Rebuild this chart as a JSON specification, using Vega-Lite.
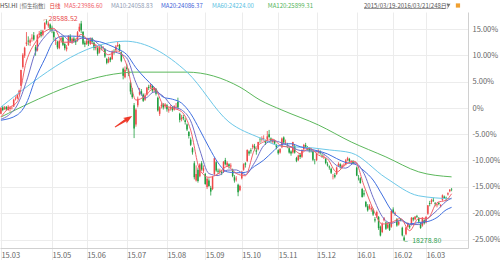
{
"$schema":"https://vega.github.io/schema/vega-lite/v6.json",
"width":468,"height":236,
"autosize":{"type":"none"},
"padding":{"left":0,"top":12,"right":32,"bottom":12},
"background":"white",
"config":{"view":{"stroke":null},"font":"Noto Sans CJK SC","text":{"font":"Noto Sans CJK SC"}},
"resolve":{"axis":{"x":"independent","y":"independent"}},
"datasets":{
"k":[
{"i":0,"o":24200,"h":24520,"l":24180,"c":24468},{"i":1,"o":24500,"h":24560,"l":24320,"c":24375},{"i":2,"o":24420,"h":24560,"l":24380,"c":24494},{"i":3,"o":24520,"h":24560,"l":24350,"c":24400},{"i":4,"o":24380,"h":24600,"l":24340,"c":24528},
{"i":5,"o":24420,"h":24540,"l":24300,"c":24497},{"i":6,"o":24460,"h":24560,"l":24400,"c":24486},{"i":7,"o":24540,"h":24900,"l":24520,"c":24855},{"i":8,"o":24880,"h":25010,"l":24820,"c":24901},{"i":9,"o":24920,"h":25120,"l":24880,"c":25082},
{"i":10,"o":25100,"h":25320,"l":25060,"c":25275},{"i":11,"o":25500,"h":26250,"l":25480,"c":26236},{"i":12,"o":26380,"h":27020,"l":26300,"c":26944},{"i":13,"o":26900,"h":27320,"l":26800,"c":27272},{"i":14,"o":27450,"h":28000,"l":27350,"c":27516},
{"i":15,"o":27600,"h":27800,"l":27380,"c":27561},{"i":16,"o":27500,"h":27700,"l":27350,"c":27618},{"i":17,"o":27700,"h":27900,"l":27550,"c":27739},{"i":18,"o":27850,"h":28000,"l":27600,"c":27653},{"i":19,"o":27300,"h":27400,"l":26900,"c":27094},
{"i":20,"o":27150,"h":27900,"l":27100,"c":27850},{"i":21,"o":27880,"h":28050,"l":27750,"c":27933},{"i":22,"o":28000,"h":28100,"l":27750,"c":27827},{"i":23,"o":27880,"h":28100,"l":27800,"c":28061},{"i":24,"o":28150,"h":28450,"l":28100,"c":28433},
{"i":25,"o":28500,"h":28588.52,"l":28350,"c":28442},{"i":26,"o":28300,"h":28500,"l":28200,"c":28400},{"i":27,"o":28350,"h":28400,"l":28050,"c":28133},{"i":28,"o":28200,"h":28300,"l":27950,"c":28123},{"i":29,"o":28000,"h":28050,"l":27600,"c":27755},
{"i":30,"o":27600,"h":27750,"l":27400,"c":27640},{"i":31,"o":27550,"h":27600,"l":27200,"c":27289},{"i":32,"o":27250,"h":27650,"l":27200,"c":27577},{"i":33,"o":27650,"h":27800,"l":27500,"c":27718},{"i":34,"o":27750,"h":27800,"l":27350,"c":27407},
{"i":35,"o":27450,"h":27500,"l":27150,"c":27250},{"i":36,"o":27200,"h":27400,"l":27100,"c":27286},{"i":37,"o":27400,"h":27850,"l":27350,"c":27822},{"i":38,"o":27800,"h":27900,"l":27500,"c":27591},{"i":39,"o":27550,"h":27750,"l":27450,"c":27694},
{"i":40,"o":27700,"h":27780,"l":27500,"c":27585},{"i":41,"o":27600,"h":27700,"l":27400,"c":27524},{"i":42,"o":27600,"h":28050,"l":27550,"c":27993},{"i":43,"o":28050,"h":28400,"l":28000,"c":28249},{"i":44,"o":28400,"h":28520,"l":27950,"c":28082},
{"i":45,"o":28000,"h":28050,"l":27400,"c":27454},{"i":46,"o":27500,"h":27600,"l":27300,"c":27424},{"i":47,"o":27450,"h":27700,"l":27400,"c":27597},{"i":48,"o":27600,"h":27650,"l":27350,"c":27466},{"i":49,"o":27450,"h":27750,"l":27400,"c":27657},
{"i":50,"o":27700,"h":27750,"l":27450,"c":27551},{"i":51,"o":27500,"h":27550,"l":27150,"c":27260},{"i":52,"o":27250,"h":27450,"l":27150,"c":27316},{"i":53,"o":27250,"h":27300,"l":26900,"c":26989},{"i":54,"o":27050,"h":27350,"l":27000,"c":27280},
{"i":55,"o":27300,"h":27400,"l":27150,"c":27281},{"i":56,"o":27250,"h":27350,"l":27150,"c":27280},{"i":57,"o":27200,"h":27250,"l":26800,"c":26861},{"i":58,"o":26750,"h":26800,"l":26500,"c":26567},{"i":59,"o":26600,"h":26850,"l":26550,"c":26753},
{"i":60,"o":26800,"h":26850,"l":26600,"c":26694},{"i":61,"o":26750,"h":27150,"l":26700,"c":27080},{"i":62,"o":27100,"h":27200,"l":26950,"c":27080},{"i":63,"o":27150,"h":27400,"l":27100,"c":27333},{"i":64,"o":27350,"h":27550,"l":27300,"c":27404},
{"i":65,"o":27400,"h":27450,"l":27100,"c":27145},{"i":66,"o":27050,"h":27100,"l":26600,"c":26663},{"i":67,"o":26300,"h":26350,"l":25800,"c":25967},{"i":68,"o":25900,"h":26400,"l":25850,"c":26250},{"i":69,"o":26350,"h":26500,"l":26200,"c":26282},
{"i":70,"o":26200,"h":26300,"l":25950,"c":26064},{"i":71,"o":25650,"h":25700,"l":25100,"c":25236},{"i":72,"o":25300,"h":25400,"l":24900,"c":24976},{"i":73,"o":24600,"h":24700,"l":23070,"c":23516},{"i":74,"o":23700,"h":24450,"l":23600,"c":24392},
{"i":75,"o":24600,"h":25000,"l":24500,"c":24901},{"i":76,"o":25100,"h":25400,"l":25050,"c":25224},{"i":77,"o":25250,"h":25350,"l":25050,"c":25120},{"i":78,"o":25100,"h":25150,"l":24750,"c":24806},{"i":79,"o":24850,"h":25150,"l":24800,"c":25056},
{"i":80,"o":25100,"h":25450,"l":25050,"c":25416},{"i":81,"o":25450,"h":25550,"l":25300,"c":25404},{"i":82,"o":25450,"h":25600,"l":25350,"c":25536},{"i":83,"o":25500,"h":25550,"l":25200,"c":25282},{"i":84,"o":25300,"h":25450,"l":25200,"c":25398},
{"i":85,"o":25350,"h":25400,"l":25050,"c":25128},{"i":86,"o":24950,"h":25000,"l":24300,"c":24351},{"i":87,"o":24200,"h":24550,"l":24100,"c":24503},{"i":88,"o":24550,"h":24700,"l":24450,"c":24619},{"i":89,"o":24650,"h":24700,"l":24400,"c":24497},
{"i":90,"o":24550,"h":24700,"l":24450,"c":24636},{"i":91,"o":24600,"h":24650,"l":24300,"c":24411},{"i":92,"o":24350,"h":24500,"l":24250,"c":24406},{"i":93,"o":24450,"h":24600,"l":24350,"c":24514},{"i":94,"o":24500,"h":24550,"l":24300,"c":24375},
{"i":95,"o":24400,"h":24600,"l":24350,"c":24552},{"i":96,"o":24500,"h":24700,"l":24450,"c":24522},{"i":97,"o":24750,"h":24950,"l":24450,"c":24498},{"i":98,"o":24200,"h":24250,"l":23800,"c":23916},{"i":99,"o":23950,"h":24150,"l":23850,"c":24019},
{"i":100,"o":24050,"h":24150,"l":23900,"c":23991},{"i":101,"o":23900,"h":24000,"l":23700,"c":23815},{"i":102,"o":23700,"h":23750,"l":23400,"c":23474},{"i":103,"o":23350,"h":23400,"l":23050,"c":23167},{"i":104,"o":23000,"h":23100,"l":22700,"c":22757},
{"i":105,"o":22600,"h":22650,"l":22300,"c":22410},{"i":106,"o":21900,"h":22000,"l":21150,"c":21251},{"i":107,"o":21100,"h":21800,"l":21050,"c":21405},{"i":108,"o":21600,"h":21700,"l":21000,"c":21080},{"i":109,"o":21300,"h":21900,"l":21250,"c":21838},
{"i":110,"o":21900,"h":22000,"l":21550,"c":21612},{"i":111,"o":21550,"h":21800,"l":21450,"c":21670},{"i":112,"o":21400,"h":21450,"l":20900,"c":20934},{"i":113,"o":20800,"h":21250,"l":20700,"c":21185},{"i":114,"o":21100,"h":21200,"l":20800,"c":20840},
{"i":115,"o":20750,"h":20850,"l":20400,"c":20584},{"i":116,"o":20700,"h":21300,"l":20650,"c":21259},{"i":117,"o":21400,"h":22150,"l":21350,"c":22131},{"i":118,"o":21950,"h":22000,"l":21500,"c":21562},{"i":119,"o":21550,"h":21650,"l":21400,"c":21504},
{"i":120,"o":21500,"h":21650,"l":21400,"c":21562},{"i":121,"o":21500,"h":21600,"l":21350,"c":21455},{"i":122,"o":21500,"h":22000,"l":21450,"c":21967},{"i":123,"o":22050,"h":22150,"l":21800,"c":21855},{"i":124,"o":21800,"h":22000,"l":21750,"c":21920},
{"i":125,"o":21850,"h":21900,"l":21650,"c":21757},{"i":126,"o":21750,"h":21900,"l":21650,"c":21797},{"i":127,"o":21600,"h":21650,"l":21250,"c":21302},{"i":128,"o":21250,"h":21350,"l":21000,"c":21095},{"i":129,"o":21150,"h":21300,"l":21050,"c":21186},
{"i":130,"o":20900,"h":20950,"l":20368,"c":20556},{"i":131,"o":20650,"h":20900,"l":20600,"c":20846},{"i":132,"o":21200,"h":21550,"l":21150,"c":21506},{"i":133,"o":21600,"h":21900,"l":21550,"c":21854},{"i":134,"o":21900,"h":21950,"l":21700,"c":21832},
{"i":135,"o":22000,"h":22550,"l":21950,"c":22515},{"i":136,"o":22450,"h":22500,"l":22250,"c":22354},{"i":137,"o":22500,"h":22600,"l":22350,"c":22458},{"i":138,"o":22650,"h":22800,"l":22550,"c":22731},{"i":139,"o":22700,"h":22800,"l":22500,"c":22600},
{"i":140,"o":22500,"h":22600,"l":22300,"c":22439},{"i":141,"o":22550,"h":22900,"l":22500,"c":22888},{"i":142,"o":23000,"h":23100,"l":22850,"c":22989},{"i":143,"o":23000,"h":23150,"l":22900,"c":23075},{"i":144,"o":23050,"h":23200,"l":22950,"c":23076},
{"i":145,"o":22950,"h":23000,"l":22750,"c":22845},{"i":146,"o":23000,"h":23400,"l":22950,"c":23151},{"i":147,"o":23250,"h":23450,"l":23050,"c":23116},{"i":148,"o":23050,"h":23100,"l":22850,"c":22956},{"i":149,"o":22900,"h":23050,"l":22800,"c":22958},
{"i":150,"o":22950,"h":23000,"l":22750,"c":22820},{"i":151,"o":22750,"h":22800,"l":22550,"c":22640},{"i":152,"o":22500,"h":22550,"l":22300,"c":22370},{"i":153,"o":22400,"h":22600,"l":22350,"c":22568},{"i":154,"o":22650,"h":23100,"l":22600,"c":23053},
{"i":155,"o":23100,"h":23150,"l":22800,"c":22867},{"i":156,"o":22850,"h":23000,"l":22750,"c":22867},{"i":157,"o":22750,"h":22850,"l":22600,"c":22726},{"i":158,"o":22600,"h":22650,"l":22350,"c":22401},{"i":159,"o":22450,"h":22500,"l":22250,"c":22352},
{"i":160,"o":22400,"h":22900,"l":22350,"c":22888},{"i":161,"o":22700,"h":22750,"l":22350,"c":22396},{"i":162,"o":22150,"h":22200,"l":21950,"c":22011},{"i":163,"o":22050,"h":22300,"l":22000,"c":22264},{"i":164,"o":22300,"h":22350,"l":22100,"c":22188},
{"i":165,"o":22200,"h":22550,"l":22150,"c":22500},{"i":166,"o":22550,"h":22800,"l":22500,"c":22754},{"i":167,"o":22750,"h":22850,"l":22600,"c":22665},{"i":168,"o":22650,"h":22700,"l":22500,"c":22587},{"i":169,"o":22600,"h":22650,"l":22400,"c":22498},
{"i":170,"o":22500,"h":22600,"l":22400,"c":22488},{"i":171,"o":22450,"h":22500,"l":22000,"c":22068},{"i":172,"o":22000,"h":22100,"l":21850,"c":21996},{"i":173,"o":22050,"h":22400,"l":22000,"c":22381},{"i":174,"o":22400,"h":22550,"l":22350,"c":22479},
{"i":175,"o":22450,"h":22500,"l":22300,"c":22369},{"i":176,"o":22250,"h":22350,"l":22150,"c":22235},{"i":177,"o":22200,"h":22300,"l":22100,"c":22203},{"i":178,"o":22100,"h":22150,"l":21850,"c":21905},{"i":179,"o":21850,"h":21950,"l":21750,"c":21803},
{"i":180,"o":21750,"h":21800,"l":21600,"c":21704},{"i":181,"o":21650,"h":21700,"l":21400,"c":21464},{"i":182,"o":21300,"h":21400,"l":21150,"c":21309},{"i":183,"o":21350,"h":21450,"l":21200,"c":21274},{"i":184,"o":21400,"h":21750,"l":21350,"c":21701},
{"i":185,"o":21800,"h":21950,"l":21750,"c":21872},{"i":186,"o":21850,"h":21900,"l":21650,"c":21756},{"i":187,"o":21700,"h":21850,"l":21650,"c":21791},{"i":188,"o":21800,"h":21900,"l":21750,"c":21830},{"i":189,"o":21850,"h":22100,"l":21800,"c":22041},
{"i":190,"o":22050,"h":22200,"l":22000,"c":22138},{"i":191,"o":22100,"h":22150,"l":21950,"c":21999},{"i":192,"o":21950,"h":22050,"l":21900,"c":22000},{"i":193,"o":22000,"h":22050,"l":21850,"c":21882},{"i":194,"o":21900,"h":21950,"l":21850,"c":21914},
{"i":195,"o":21700,"h":21750,"l":21300,"c":21327},{"i":196,"o":21200,"h":21350,"l":21100,"c":21188},{"i":197,"o":21200,"h":21250,"l":20950,"c":20981},{"i":198,"o":20700,"h":20750,"l":20300,"c":20333},{"i":199,"o":20500,"h":20650,"l":20350,"c":20453},
{"i":200,"o":20100,"h":20150,"l":19850,"c":19888},{"i":201,"o":19900,"h":20000,"l":19650,"c":19712},{"i":202,"o":19800,"h":20000,"l":19750,"c":19934},{"i":203,"o":19750,"h":19900,"l":19650,"c":19817},{"i":204,"o":19750,"h":19800,"l":19450,"c":19520},
{"i":205,"o":19300,"h":19400,"l":19150,"c":19237},{"i":206,"o":19400,"h":19700,"l":19350,"c":19636},{"i":207,"o":19400,"h":19450,"l":18800,"c":18886},{"i":208,"o":18950,"h":19000,"l":18500,"c":18542},{"i":209,"o":18700,"h":19150,"l":18650,"c":19080},
{"i":210,"o":19250,"h":19400,"l":19200,"c":19340},{"i":211,"o":19150,"h":19200,"l":18800,"c":18860},{"i":212,"o":18900,"h":19150,"l":18850,"c":19052},{"i":213,"o":19100,"h":19150,"l":18750,"c":18793},{"i":214,"o":18950,"h":19750,"l":18900,"c":19683},
{"i":215,"o":19750,"h":19850,"l":19550,"c":19596},{"i":216,"o":19550,"h":19650,"l":19450,"c":19595},{"i":217,"o":19300,"h":19350,"l":18950,"c":19003},{"i":218,"o":19050,"h":19250,"l":19000,"c":19183},{"i":219,"o":19300,"h":19350,"l":19200,"c":19289},
{"i":220,"o":18900,"h":18950,"l":18500,"c":18546},{"i":221,"o":18450,"h":18550,"l":18278.8,"c":18320},{"i":222,"o":18600,"h":18950,"l":18550,"c":18918},{"i":223,"o":18950,"h":19150,"l":18900,"c":19122},{"i":224,"o":19000,"h":19050,"l":18850,"c":18925},
{"i":225,"o":19050,"h":19400,"l":19000,"c":19363},{"i":226,"o":19350,"h":19400,"l":19200,"c":19286},{"i":227,"o":19300,"h":19450,"l":19250,"c":19415},{"i":228,"o":19450,"h":19500,"l":19350,"c":19414},{"i":229,"o":19350,"h":19400,"l":19100,"c":19192},
{"i":230,"o":19100,"h":19150,"l":18850,"c":18889},{"i":231,"o":19000,"h":19400,"l":18950,"c":19364},{"i":232,"o":19250,"h":19300,"l":19050,"c":19112},{"i":233,"o":19150,"h":19450,"l":19100,"c":19407},{"i":234,"o":19550,"h":19950,"l":19500,"c":19942},
{"i":235,"o":20050,"h":20150,"l":19900,"c":20004},{"i":236,"o":20100,"h":20250,"l":20000,"c":20176},{"i":237,"o":20200,"h":20300,"l":20100,"c":20161},{"i":238,"o":20050,"h":20100,"l":19900,"c":20012},{"i":239,"o":19950,"h":20050,"l":19850,"c":19996},
{"i":240,"o":20050,"h":20100,"l":19950,"c":20003},{"i":241,"o":19900,"h":20000,"l":19850,"c":19965},{"i":242,"o":20200,"h":20450,"l":20150,"c":20407},{"i":243,"o":20350,"h":20400,"l":20250,"c":20288},{"i":244,"o":20300,"h":20350,"l":20150,"c":20257},
{"i":245,"o":20450,"h":20550,"l":20400,"c":20504},{"i":246,"o":20600,"h":20700,"l":20550,"c":20672},{"i":247,"o":20700,"h":20750,"l":20600,"c":20684}
],
"ma":[
{"s":"MA120","i":0,"v":24050},{"s":"MA120","i":66,"v":26092},{"s":"MA120","i":72,"v":26137},{"s":"MA120","i":102,"v":26137},{"s":"MA120","i":131,"v":25442},{"s":"MA120","i":142,"v":24839},{"s":"MA120","i":154,"v":24375},{"s":"MA120","i":174,"v":23680},{"s":"MA120","i":192,"v":22890},{"s":"MA120","i":211,"v":22195},{"s":"MA120","i":229,"v":21500},{"s":"MA120","i":247,"v":21268},
{"s":"MA60","i":0,"v":24514},{"s":"MA60","i":68,"v":27576},{"s":"MA60","i":102,"v":26137},{"s":"MA60","i":125,"v":23819},{"s":"MA60","i":142,"v":23076},{"s":"MA60","i":153,"v":22706},{"s":"MA60","i":171,"v":22613},{"s":"MA60","i":180,"v":22520},{"s":"MA60","i":192,"v":22381},{"s":"MA60","i":211,"v":21220},{"s":"MA60","i":229,"v":20386},{"s":"MA60","i":247,"v":20247},
{"s":"MA20","i":0,"v":23900},{"s":"MA20","i":9,"v":24150},{"s":"MA20","i":14,"v":24700},{"s":"MA20","i":19,"v":25850},{"s":"MA20","i":24,"v":26742},{"s":"MA20","i":29,"v":27594},{"s":"MA20","i":34,"v":27813},{"s":"MA20","i":39,"v":27812},{"s":"MA20","i":44,"v":27778},{"s":"MA20","i":49,"v":27616},{"s":"MA20","i":54,"v":27554},{"s":"MA20","i":59,"v":27409},{"s":"MA20","i":64,"v":27216},{"s":"MA20","i":69,"v":26952},{"s":"MA20","i":74,"v":26341},{"s":"MA20","i":79,"v":25859},{"s":"MA20","i":84,"v":25432},{"s":"MA20","i":89,"v":24971},{"s":"MA20","i":94,"v":24879},{"s":"MA20","i":99,"v":24699},{"s":"MA20","i":104,"v":24208},{"s":"MA20","i":109,"v":23452},{"s":"MA20","i":114,"v":22647},{"s":"MA20","i":119,"v":21924},{"s":"MA20","i":124,"v":21501},{"s":"MA20","i":129,"v":21459},{"s":"MA20","i":134,"v":21477},{"s":"MA20","i":139,"v":21758},{"s":"MA20","i":144,"v":22043},{"s":"MA20","i":149,"v":22437},{"s":"MA20","i":154,"v":22780},{"s":"MA20","i":159,"v":22808},{"s":"MA20","i":164,"v":22672},{"s":"MA20","i":169,"v":22571},{"s":"MA20","i":174,"v":22469},{"s":"MA20","i":179,"v":22334},{"s":"MA20","i":184,"v":22119},{"s":"MA20","i":189,"v":21933},{"s":"MA20","i":194,"v":21860},{"s":"MA20","i":199,"v":21548},{"s":"MA20","i":204,"v":21119},{"s":"MA20","i":209,"v":20423},{"s":"MA20","i":214,"v":19713},{"s":"MA20","i":219,"v":19332},{"s":"MA20","i":224,"v":19080},{"s":"MA20","i":229,"v":19145},{"s":"MA20","i":234,"v":19194},{"s":"MA20","i":239,"v":19378},{"s":"MA20","i":244,"v":19733},{"s":"MA20","i":247,"v":19850},
{"s":"MA10","i":0,"v":23950},{"s":"MA10","i":4,"v":24120},{"s":"MA10","i":9,"v":24609},{"s":"MA10","i":14,"v":25707},{"s":"MA10","i":19,"v":27091},{"s":"MA10","i":24,"v":27777},{"s":"MA10","i":29,"v":28096},{"s":"MA10","i":34,"v":27849},{"s":"MA10","i":39,"v":27528},{"s":"MA10","i":44,"v":27708},{"s":"MA10","i":49,"v":27704},{"s":"MA10","i":54,"v":27400},{"s":"MA10","i":59,"v":27114},{"s":"MA10","i":64,"v":27033},{"s":"MA10","i":69,"v":26790},{"s":"MA10","i":74,"v":25649},{"s":"MA10","i":79,"v":24929},{"s":"MA10","i":84,"v":25214},{"s":"MA10","i":89,"v":25014},{"s":"MA10","i":94,"v":24544},{"s":"MA10","i":99,"v":24385},{"s":"MA10","i":104,"v":23871},{"s":"MA10","i":109,"v":22519},{"s":"MA10","i":114,"v":21423},{"s":"MA10","i":119,"v":21328},{"s":"MA10","i":124,"v":21580},{"s":"MA10","i":129,"v":21590},{"s":"MA10","i":134,"v":21373},{"s":"MA10","i":139,"v":21926},{"s":"MA10","i":144,"v":22713},{"s":"MA10","i":149,"v":22949},{"s":"MA10","i":154,"v":22848},{"s":"MA10","i":159,"v":22667},{"s":"MA10","i":164,"v":22496},{"s":"MA10","i":169,"v":22475},{"s":"MA10","i":174,"v":22442},{"s":"MA10","i":179,"v":22193},{"s":"MA10","i":184,"v":21797},{"s":"MA10","i":189,"v":21674},{"s":"MA10","i":194,"v":21923},{"s":"MA10","i":199,"v":21422},{"s":"MA10","i":204,"v":20315},{"s":"MA10","i":209,"v":19425},{"s":"MA10","i":214,"v":19111},{"s":"MA10","i":219,"v":19240},{"s":"MA10","i":224,"v":19050},{"s":"MA10","i":229,"v":19050},{"s":"MA10","i":234,"v":19339},{"s":"MA10","i":239,"v":19707},{"s":"MA10","i":244,"v":20127},{"s":"MA10","i":247,"v":20279},
{"s":"MA5","i":0,"v":24052},{"s":"MA5","i":4,"v":24453},{"s":"MA5","i":9,"v":24764},{"s":"MA5","i":14,"v":26649},{"s":"MA5","i":19,"v":27533},{"s":"MA5","i":24,"v":28021},{"s":"MA5","i":29,"v":28171},{"s":"MA5","i":34,"v":27526},{"s":"MA5","i":39,"v":27529},{"s":"MA5","i":44,"v":27887},{"s":"MA5","i":49,"v":27520},{"s":"MA5","i":54,"v":27279},{"s":"MA5","i":59,"v":26948},{"s":"MA5","i":64,"v":27118},{"s":"MA5","i":69,"v":26461},{"s":"MA5","i":74,"v":24837},{"s":"MA5","i":79,"v":25021},{"s":"MA5","i":84,"v":25407},{"s":"MA5","i":89,"v":24620},{"s":"MA5","i":94,"v":24468},{"s":"MA5","i":99,"v":24301},{"s":"MA5","i":104,"v":23441},{"s":"MA5","i":109,"v":21597},{"s":"MA5","i":114,"v":21248},{"s":"MA5","i":119,"v":21408},{"s":"MA5","i":124,"v":21752},{"s":"MA5","i":129,"v":21427},{"s":"MA5","i":134,"v":21319},{"s":"MA5","i":139,"v":22532},{"s":"MA5","i":144,"v":22893},{"s":"MA5","i":149,"v":23005},{"s":"MA5","i":154,"v":22690},{"s":"MA5","i":159,"v":22643},{"s":"MA5","i":164,"v":22349},{"s":"MA5","i":169,"v":22601},{"s":"MA5","i":174,"v":22282},{"s":"MA5","i":179,"v":22103},{"s":"MA5","i":184,"v":21490},{"s":"MA5","i":189,"v":21858},{"s":"MA5","i":194,"v":21987},{"s":"MA5","i":199,"v":20856},{"s":"MA5","i":204,"v":19774},{"s":"MA5","i":209,"v":19076},{"s":"MA5","i":214,"v":19146},{"s":"MA5","i":219,"v":19333},{"s":"MA5","i":224,"v":18766},{"s":"MA5","i":229,"v":19334},{"s":"MA5","i":234,"v":19343},{"s":"MA5","i":239,"v":20070},{"s":"MA5","i":244,"v":20184},{"s":"MA5","i":247,"v":20481}
],
"hl":[{"kind":"hi","i":25,"v":28588.52},{"kind":"lo","i":221,"v":18278.8}]
},
"layer":[
{"data":{"name":"k"},"mark":{"type":"rule","strokeWidth":0.8},
 "encoding":{
  "x":{"field":"i","type":"quantitative","scale":{"domain":[-0.5,256],"nice":false,"zero":false},
   "axis":{"title":null,"values":[0,28,47,69,91,112,132,152,173,195,215,233],
    "labelExpr":"['15.03','15.05','15.06','15.07','15.08','15.09','15.10','15.11','15.12','16.01','16.02','16.03'][indexof([0,28,47,69,91,112,132,152,173,195,215,233], datum.value)]",
    "grid":true,"gridColor":"#ececec","gridWidth":1,"domainColor":"#d0d0d0","tickColor":"#ececec","tickSize":12,
    "labelAlign":"left","labelBaseline":"top","labelPadding":-9,"labelDx":2,"labelFontSize":7.5,"labelColor":"#666","labelFont":"Noto Sans CJK SC","labelOverlap":false,"labelFlush":false}},
  "y":{"field":"l","type":"quantitative","scale":{"domain":[17960,28933],"nice":false,"zero":false},
   "axis":{"title":null,"orient":"right","values":[18351,19574.4,20797.8,22021.2,23244.6,24468,25691.4,26914.8,28138.2],
    "labelExpr":"datum.value == 24468 ? '0%' : replace(format(datum.value/24468 - 1, '.2%'), '−', '-')",
    "grid":true,"gridColor":"#ececec","domainColor":"#d0d0d0","ticks":false,"labelPadding":4,"labelFontSize":7.5,"labelColor":"#666","labelFont":"Noto Sans CJK SC","labelAlign":"left","labelBaseline":"middle"}},
  "y2":{"field":"h"},
  "color":{"condition":{"test":"datum.c >= datum.o","value":"#f04848"},"value":"#1e9e3e"}}},
{"data":{"name":"k"},"mark":{"type":"rule","strokeWidth":1.5},
 "encoding":{
  "x":{"field":"i","type":"quantitative","axis":null},
  "y":{"field":"o","type":"quantitative","axis":null},
  "y2":{"field":"c"},
  "color":{"condition":{"test":"datum.c >= datum.o","value":"#f04848"},"value":"#1e9e3e"}}},
{"data":{"name":"ma"},"mark":{"type":"line","strokeWidth":1,"interpolate":"monotone"},
 "encoding":{
  "x":{"field":"i","type":"quantitative","axis":null},
  "y":{"field":"v","type":"quantitative","axis":null},
  "color":{"field":"s","type":"nominal","legend":null,"scale":{"domain":["MA5","MA10","MA20","MA60","MA120"],"range":["#f0606a","#6f6fc8","#3f6fe0","#6cc8e8","#5cb85c"]}},
  "order":{"field":"i","type":"quantitative"}}},
{"data":{"name":"hl"},"transform":[{"filter":"datum.kind == 'hi'"}],"mark":{"type":"text","align":"left","baseline":"middle","dx":-3,"dy":1,"fontSize":7,"text":"⌐","color":"#e84848"},
 "encoding":{"x":{"field":"i","type":"quantitative","axis":null},"y":{"field":"v","type":"quantitative","axis":null}}},
{"data":{"name":"hl"},"transform":[{"filter":"datum.kind == 'hi'"}],"mark":{"type":"text","align":"left","baseline":"middle","dx":2,"fontSize":7,"color":"#e84848"},
 "encoding":{"x":{"field":"i","type":"quantitative","axis":null},"y":{"field":"v","type":"quantitative","axis":null},"text":{"field":"v","format":".2f"}}},
{"data":{"name":"hl"},"transform":[{"filter":"datum.kind == 'lo'"}],"mark":{"type":"text","align":"left","baseline":"middle","dx":0,"fontSize":7,"text":"–","color":"#2e9e4e"},
 "encoding":{"x":{"field":"i","type":"quantitative","axis":null},"y":{"field":"v","type":"quantitative","axis":null}}},
{"data":{"name":"hl"},"transform":[{"filter":"datum.kind == 'lo'"}],"mark":{"type":"text","align":"left","baseline":"middle","dx":8,"fontSize":7,"color":"#2e9e4e"},
 "encoding":{"x":{"field":"i","type":"quantitative","axis":null},"y":{"field":"v","type":"quantitative","axis":null},"text":{"field":"v","format":".2f"}}},
{"data":{"values":[{}]},"mark":{"type":"point","filled":true,"opacity":1,"color":"#ee3a2a","size":420,"angle":327,"shape":"M-1,-0.05L0.25,-0.12L0.15,-0.32L1,0L0.15,0.32L0.25,0.12L-1,0.05Z"},
 "encoding":{"x":{"datum":67.2,"type":"quantitative","axis":null},"y":{"datum":23842,"type":"quantitative","axis":null}}},
{"data":{"values":[{}]},"mark":{"type":"text","align":"left","baseline":"middle","fontSize":6,"color":"#444","text":"HSI.HI"},
 "encoding":{"x":{"datum":-0.5,"type":"quantitative","axis":null},"y":{"datum":29235,"type":"quantitative","axis":null}}},
{"data":{"values":[{}]},"mark":{"type":"text","align":"left","baseline":"middle","fontSize":5.5,"color":"#666","text":"[恒生指数]"},
 "encoding":{"x":{"datum":10.2,"type":"quantitative","axis":null},"y":{"datum":29235,"type":"quantitative","axis":null}}},
{"data":{"values":[{}]},"mark":{"type":"text","align":"left","baseline":"middle","fontSize":5.5,"color":"#e53935","text":"日线"},
 "encoding":{"x":{"datum":26.6,"type":"quantitative","axis":null},"y":{"datum":29235,"type":"quantitative","axis":null}}},
{"data":{"values":[{}]},"mark":{"type":"text","align":"left","baseline":"middle","fontSize":6,"color":"#f0606a","text":"MA5:23986.60"},
 "encoding":{"x":{"datum":34.6,"type":"quantitative","axis":null},"y":{"datum":29235,"type":"quantitative","axis":null}}},
{"data":{"values":[{}]},"mark":{"type":"text","align":"left","baseline":"middle","fontSize":6,"color":"#8f9bb3","text":"MA10:24058.83"},
 "encoding":{"x":{"datum":60.3,"type":"quantitative","axis":null},"y":{"datum":29235,"type":"quantitative","axis":null}}},
{"data":{"values":[{}]},"mark":{"type":"text","align":"left","baseline":"middle","fontSize":6,"color":"#3f5fd8","text":"MA20:24086.37"},
 "encoding":{"x":{"datum":87.7,"type":"quantitative","axis":null},"y":{"datum":29235,"type":"quantitative","axis":null}}},
{"data":{"values":[{}]},"mark":{"type":"text","align":"left","baseline":"middle","fontSize":6,"color":"#59c0df","text":"MA60:24224.00"},
 "encoding":{"x":{"datum":115.7,"type":"quantitative","axis":null},"y":{"datum":29235,"type":"quantitative","axis":null}}},
{"data":{"values":[{}]},"mark":{"type":"text","align":"left","baseline":"middle","fontSize":6,"color":"#53b45a","text":"MA120:25899.31"},
 "encoding":{"x":{"datum":146.3,"type":"quantitative","axis":null},"y":{"datum":29235,"type":"quantitative","axis":null}}},
{"data":{"values":[{}]},"mark":{"type":"text","align":"left","baseline":"middle","fontSize":6,"color":"#555","text":"2015/03/19-2016/03/21(248日)"},
 "encoding":{"x":{"datum":199,"type":"quantitative","axis":null},"y":{"datum":29235,"type":"quantitative","axis":null}}},
{"data":{"values":[{}]},"mark":{"type":"rule","color":"#555","strokeWidth":0.6},
 "encoding":{"x":{"datum":199,"type":"quantitative","axis":null},"x2":{"datum":243.3},"y":{"datum":29096,"type":"quantitative","axis":null}}},
{"data":{"values":[{}]},"mark":{"type":"point","filled":true,"opacity":1,"color":"#777","shape":"triangle-down","size":16},
 "encoding":{"x":{"datum":245.3,"type":"quantitative","axis":null},"y":{"datum":29235,"type":"quantitative","axis":null}}},
{"data":{"values":[{}]},"mark":{"type":"point","filled":true,"opacity":1,"color":"#f0a030","shape":"square","size":18},
 "encoding":{"x":{"datum":250.5,"type":"quantitative","axis":null},"y":{"datum":29235,"type":"quantitative","axis":null}}}
]
}
